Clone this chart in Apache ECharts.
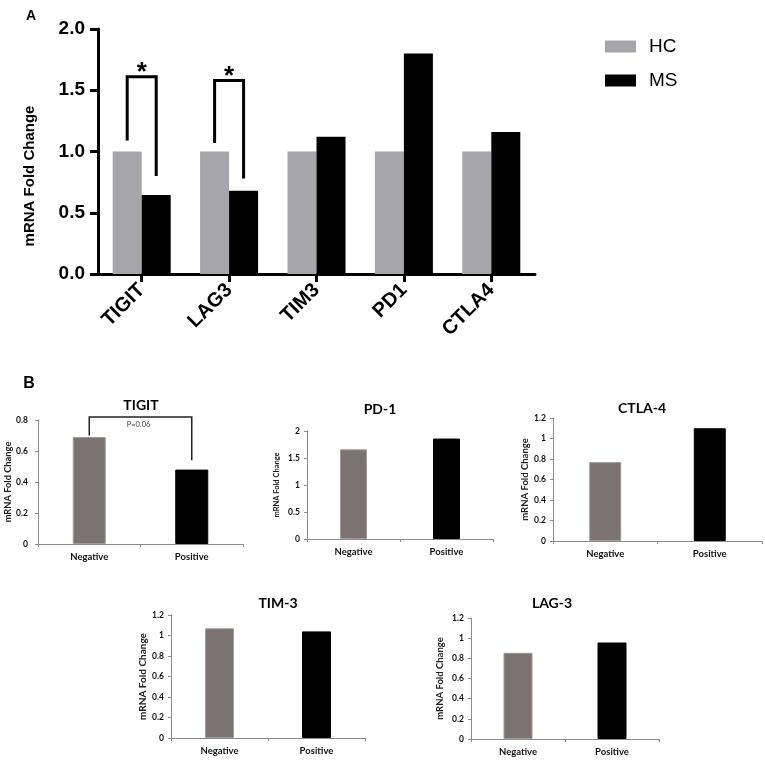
<!DOCTYPE html>
<html><head><meta charset="utf-8">
<script src="https://cdn.jsdelivr.net/npm/echarts@6/dist/echarts.min.js"></script>
<style>html,body{margin:0;padding:0;background:#fff}#c{width:765px;height:766px}</style>
</head><body><div id="c"></div>
<script>
// ---------- Panel A data ----------
const genesA = ['TIGIT', 'LAG3', 'TIM3', 'PD1', 'CTLA4'];
const hcValues = [1, 1, 1, 1, 1];
const msValues = [0.645, 0.68, 1.12, 1.80, 1.16];
const seriesNamesA = ['HC', 'MS'];
// significance brackets (category index, left-foot, top, right-foot, mark)
const sigIndex = [0, 1];
const sigLeft = [1.09, 1.07];
const sigTop = [1.61, 1.58];
const sigRight = [0.80, 0.78];
const sigMark = ['*', '*'];

// ---------- Panel B data ----------
const groupsB = ['Negative', 'Positive'];
const panelTitlesB = ['TIGIT', 'PD-1', 'CTLA-4', 'TIM-3', 'LAG-3'];
const tigitB = [0.69, 0.48];
const pd1B = [1.66, 1.86];
const ctla4B = [0.77, 1.10];
const tim3B = [1.07, 1.04];
const lag3B = [0.855, 0.957];
const maxB = [0.8, 2, 1.2, 1.2, 1.2];
const intervalB = [0.2, 0.5, 0.2, 0.2, 0.2];
const tigitBracket = [0.70, 0.82, 0.54];
const tigitP = 'P=0.06';

const valuesB = [tigitB, pd1B, ctla4B, tim3B, lag3B];

// ---------- layout ----------
const gridA = {left: 98, top: 29, width: 437, height: 245};
const gridsB = [
  {left: 38, top: 420, width: 205, height: 124},
  {left: 307, top: 431, width: 186, height: 108},
  {left: 553, top: 418, width: 209, height: 123},
  {left: 171, top: 615, width: 194, height: 123},
  {left: 471, top: 618, width: 188, height: 121}
];
const titlePosB = [[141, 405], [380, 409], [642, 408], [278, 603], [552, 603]];
const yNameGapB = [25, 26, 20, 22, 26];
const yNameSizeB = [9.3, 7.5, 9.5, 10, 9.5];
const yLabelMarginB = [10, 7, 7, 7, 7];
const barWidthB = [33, 27, 32, 29, 29];
const barWidthA = 29;
const colorsB = ['#7a7371', '#000000'];
const bordersB = ['#a19b99', '#000000'];

const ARIAL = '"Liberation Sans", Arial, sans-serif';
const CAL = 'Lato, "Open Sans", sans-serif';

const grids = [Object.assign({outerBoundsMode: 'none', containLabel: false}, gridA)]
  .concat(gridsB.map(g => Object.assign({outerBoundsMode: 'none', containLabel: false}, g)));

const xAxes = [{
  type: 'category', gridIndex: 0, data: genesA,
  axisLine: {show: true, lineStyle: {color: '#000', width: 3}},
  axisTick: {show: true, alignWithLabel: true, length: 8, lineStyle: {color: '#000', width: 3}},
  axisLabel: {rotate: 45, margin: 13, color: '#000', fontFamily: ARIAL, fontWeight: 'bold', fontSize: 20},
  splitLine: {show: false}
}];
const yAxes = [{
  type: 'value', gridIndex: 0, min: 0, max: 2, interval: 0.5,
  axisLine: {show: true, lineStyle: {color: '#000', width: 3}},
  axisTick: {show: true, length: 8, lineStyle: {color: '#000', width: 3}},
  axisLabel: {margin: 13, color: '#000', fontFamily: ARIAL, fontWeight: 'bold', fontSize: 19,
    formatter: v => v.toFixed(1)},
  splitLine: {show: false}
}];

gridsB.forEach((g, i) => {
  xAxes.push({
    type: 'category', gridIndex: i + 1, data: groupsB,
    axisLine: {show: true, lineStyle: {color: '#8c8c8c', width: 1}},
    axisTick: {show: true, length: 3, lineStyle: {color: '#8c8c8c'}},
    axisLabel: {margin: 8, color: '#111', fontFamily: CAL, fontWeight: 'bold', fontSize: 9.5},
    splitLine: {show: false}
  });
  yAxes.push({
    type: 'value', gridIndex: i + 1, min: 0, max: maxB[i], interval: intervalB[i],
    name: 'mRNA Fold Change', nameLocation: 'middle', nameGap: yNameGapB[i],
    nameTextStyle: {color: '#222', fontFamily: CAL, fontWeight: 'bold', fontSize: yNameSizeB[i]},
    axisLine: {show: true, lineStyle: {color: '#8c8c8c', width: 1}},
    axisTick: {show: true, length: 3, lineStyle: {color: '#8c8c8c'}},
    axisLabel: {margin: yLabelMarginB[i], color: '#111', fontFamily: CAL, fontWeight: 'bold', fontSize: 8.5},
    splitLine: {show: false}
  });
});

function renderSigA(params, api) {
  const idx = api.value(0);
  const half = barWidthA / 2;
  const pL = api.coord([idx, api.value(1)]);
  const pT = api.coord([idx, api.value(2)]);
  const pR = api.coord([idx, api.value(3)]);
  const xl = pL[0] - half, xr = pL[0] + half;
  return {type: 'group', children: [
    {type: 'polyline', shape: {points: [[xl, pL[1]], [xl, pT[1]], [xr, pT[1]], [xr, pR[1]]]},
      style: {stroke: '#000', lineWidth: 3, fill: null}},
    {type: 'text', x: (xl + xr) / 2, y: pT[1] - 4,
      style: {text: sigMark[params.dataIndex], font: 'bold 26px ' + ARIAL, fill: '#000', align: 'center', verticalAlign: 'middle'}}
  ]};
}

function renderSigB(params, api) {
  const p0 = api.coord([0, api.value(0)]);
  const pT0 = api.coord([0, api.value(1)]);
  const p1 = api.coord([1, api.value(2)]);
  return {type: 'group', children: [
    {type: 'polyline', shape: {points: [[p0[0], p0[1]], [p0[0], pT0[1]], [p1[0], pT0[1]], [p1[0], p1[1]]]},
      style: {stroke: '#222', lineWidth: 1.5, fill: null}},
    {type: 'text', x: (p0[0] + p1[0]) / 2 - 2, y: pT0[1] + 8,
      style: {text: tigitP, font: '7.5px ' + CAL, fill: '#444', align: 'center', verticalAlign: 'middle'}}
  ]};
}

const series = [
  {name: 'HC', type: 'bar', xAxisIndex: 0, yAxisIndex: 0, data: hcValues, barWidth: barWidthA, barGap: '0%',
    itemStyle: {color: '#a6a6aa'}},
  {name: 'MS', type: 'bar', xAxisIndex: 0, yAxisIndex: 0, data: msValues, barWidth: barWidthA, barGap: '0%',
    itemStyle: {color: '#000'}},
  {type: 'custom', xAxisIndex: 0, yAxisIndex: 0, clip: false, z: 5,
    data: sigIndex.map((c, i) => [c, sigLeft[i], sigTop[i], sigRight[i]]),
    renderItem: renderSigA}
];
valuesB.forEach((vals, i) => {
  series.push({type: 'bar', xAxisIndex: i + 1, yAxisIndex: i + 1, barWidth: barWidthB[i],
    data: vals.map((v, j) => ({value: v, itemStyle: {color: colorsB[j], borderColor: bordersB[j], borderWidth: 1}}))});
});
series.push({type: 'custom', xAxisIndex: 1, yAxisIndex: 1, clip: false, z: 5,
  data: [tigitBracket], renderItem: renderSigB});

const graphic = [
  {type: 'text', x: 31, y: 16, style: {text: 'A', font: 'bold 14px ' + ARIAL, fill: '#000', align: 'center', verticalAlign: 'middle'}},
  {type: 'text', x: 29, y: 384, style: {text: 'B', font: 'bold 16px ' + ARIAL, fill: '#000', align: 'center', verticalAlign: 'middle'}},
  {type: 'text', x: 30, y: 176, rotation: Math.PI / 2,
    style: {text: 'mRNA Fold Change', font: 'bold 15px ' + ARIAL, fill: '#000', align: 'center', verticalAlign: 'middle'}}
];
panelTitlesB.forEach((t, i) => {
  graphic.push({type: 'text', x: titlePosB[i][0], y: titlePosB[i][1],
    style: {text: t, font: 'bold 14px ' + CAL, fill: '#000', align: 'center', verticalAlign: 'middle'}});
});

const chart = echarts.init(document.getElementById('c'), null, {renderer: 'canvas'});
chart.setOption({
  animation: false,
  backgroundColor: '#fff',
  grid: grids,
  xAxis: xAxes,
  yAxis: yAxes,
  legend: {
    data: seriesNamesA, orient: 'vertical', left: 600, top: 32, icon: 'rect',
    itemWidth: 31, itemHeight: 12, itemGap: 15, selectedMode: false,
    textStyle: {color: '#000', fontFamily: ARIAL, fontSize: 19, padding: [0, 0, 0, 8]}
  },
  series: series,
  graphic: graphic
});
</script>
</body></html>
